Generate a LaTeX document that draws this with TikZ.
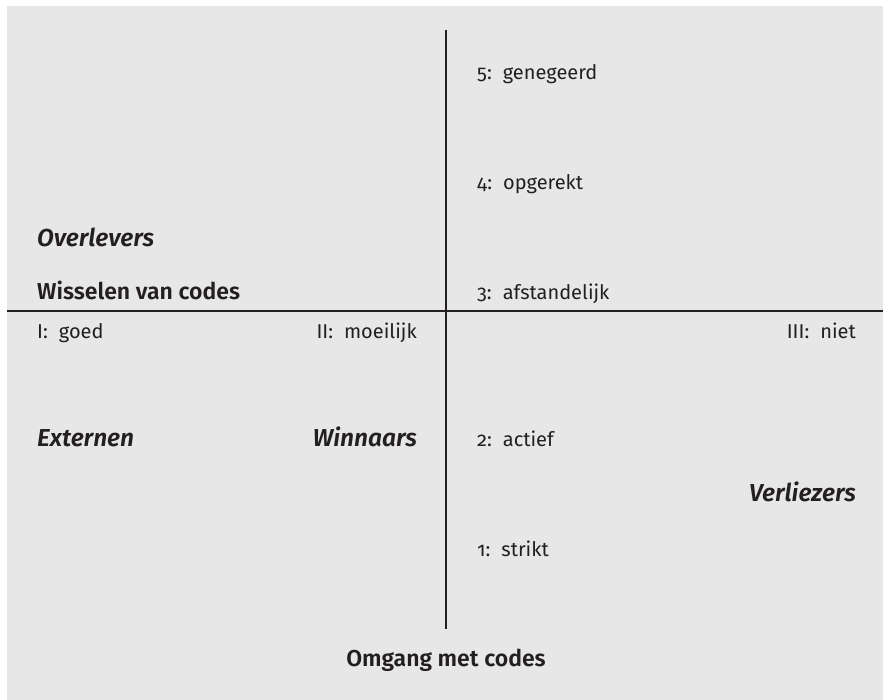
\documentclass[tikz,border=0pt]{standalone}
\usepackage{fontspec}
\setmainfont{Fira Sans}[Numbers=OldStyle,BoldFont={Fira Sans SemiBold},ItalicFont={Fira Sans Italic},BoldItalicFont={Fira Sans SemiBold Italic}]
\definecolor{bg}{HTML}{E6E7E6}
\definecolor{ink}{HTML}{231F20}
\begin{document}
\begin{tikzpicture}[x=1pt,y=-1pt,
  lbl/.style={font=\fontsize{20}{22}\selectfont, text=ink, inner sep=0pt},
  head/.style={lbl, font=\fontsize{23}{25}\selectfont\bfseries},
  grp/.style={lbl, font=\fontsize{24.5}{26}\selectfont\bfseries\itshape},
  axis/.style={draw=ink, line width=1.3pt}]
\useasboundingbox (0,0) rectangle (883,700);
\fill[bg] (7,6) rectangle (883,700);
\coordinate (vt) at (446,30);
\coordinate (vb) at (446,629);
\coordinate (hl) at (7,311);
\coordinate (hr) at (883,311);
\draw[axis] (vt) -- (vb);
\draw[axis] (hl) -- (hr);
\node[lbl, anchor=base west] (n5) at (477,80) {5:\hspace{0.55em}genegeerd};
\node[lbl, anchor=base west] (n4) at (477,190) {4:\hspace{0.55em}opgerekt};
\node[lbl, anchor=base west] (n3) at (477,300) {3:\hspace{0.55em}afstandelijk};
\node[lbl, anchor=base west] (n2) at (477,446) {2:\hspace{0.55em}actief};
\node[lbl, anchor=base west] (n1) at (477,556) {1:\hspace{0.55em}strikt};
\node[grp, anchor=base west] (ov) at (37,247) {Overlevers};
\node[head, anchor=base west] (wv) at (37,300) {Wisselen van codes};
\node[lbl, anchor=base west] (r1) at (37,338) {I:\hspace{0.55em}goed};
\node[lbl, anchor=base east] (r2) at (417,338) {II:\hspace{0.55em}moeilijk};
\node[lbl, anchor=base east] (r3) at (856,338) {III:\hspace{0.55em}niet};
\node[grp, anchor=base west] (ex) at (37,446) {Externen};
\node[grp, anchor=base east] (wi) at (417,446) {Winnaars};
\node[grp, anchor=base east] (ve) at (856,501) {Verliezers};
\node[head, anchor=base] (om) at (446,666) {Omgang met codes};
\end{tikzpicture}
\end{document}
